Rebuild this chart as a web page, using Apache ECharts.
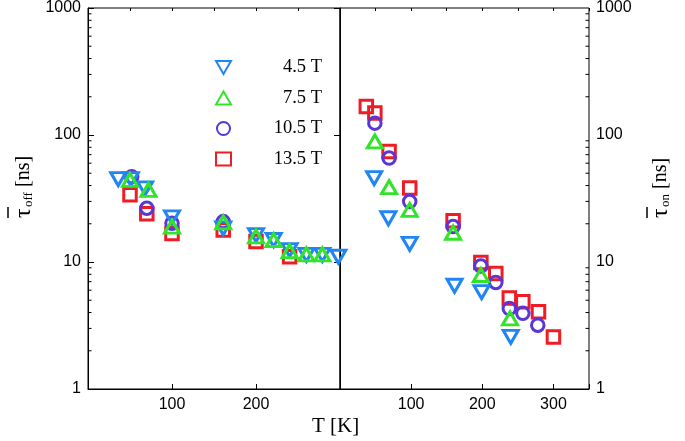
<!DOCTYPE html>
<html>
<head>
<meta charset="utf-8">
<script src="https://cdn.jsdelivr.net/npm/echarts@6/dist/echarts.min.js"></script>
<style>html,body{margin:0;padding:0;background:#fff}#c{width:685px;height:441px}</style>
</head>
<body>
<div id="c"></div>
<script>
// ---- data (left panel: tau_off, right panel: tau_on) ----
const FIELDS = ['4.5 T', '7.5 T', '10.5 T', '13.5 T'];
const T_OFF_45 = [36, 51, 68, 100, 161, 200, 221, 240, 260, 279, 298];
const V_OFF_45 = [45, 45, 38, 22.5, 18.4, 16.3, 14.9, 12.4, 11.4, 11.4, 11.0];
const T_OFF_75 = [50, 72, 100, 161, 200, 221, 240, 260, 279];
const V_OFF_75 = [44.4, 37, 19, 20.5, 15.9, 14.9, 12.2, 11.5, 11.5];
const T_OFF_105 = [52, 70, 100, 161];
const V_OFF_105 = [47, 26.5, 20.2, 20.8];
const T_OFF_135 = [50, 70, 100, 161, 200, 240];
const V_OFF_135 = [33.8, 24, 16.8, 17.9, 14.5, 11.0];

const T_ON_45 = [48, 68, 98, 161, 199, 240];
const V_ON_45 = [45.8, 22.1, 13.9, 6.5, 5.8, 2.57];
const T_ON_75 = [49, 69, 98, 159, 198, 239];
const V_ON_75 = [89, 38.9, 25.7, 17.0, 7.9, 3.6];
const T_ON_105 = [49, 69, 98, 159, 198, 219, 238, 257, 278];
const V_ON_105 = [124, 65.8, 29.9, 19.0, 9.3, 6.9, 4.3, 3.94, 3.18];
const T_ON_135 = [37, 49, 69, 98, 159, 198, 219, 238, 257, 279, 300];
const V_ON_135 = [168, 149, 74.3, 38.2, 21.1, 9.9, 8.1, 5.2, 4.86, 4.05, 2.57];

const X_LABELS_LEFT = [100, 200];
const X_LABELS_RIGHT = [100, 200, 300];
const Y_LABELS = [1, 10, 100, 1000];
const MINOR_Y = [2,3,4,5,6,7,8,9,20,30,40,50,60,70,80,90,200,300,400,500,600,700,800,900];

// ---- styles ----
const COLORS = {'4.5 T':'#2186f4', '7.5 T':'#33e32a', '10.5 T':'#5a35d8', '13.5 T':'#ee1c25'};
const DOWN_TRI = 'path://M0,0L10,0L5,8.7Z';
const SYM = {
  '4.5 T': {symbol: DOWN_TRI, symbolSize:[15,13]},
  '7.5 T': {symbol:'triangle', symbolSize:[15,13]},
  '10.5 T': {symbol:'circle', symbolSize:12.5},
  '13.5 T': {symbol:'rect', symbolSize:12.5}
};
const Z = {'13.5 T':2, '10.5 T':3, '4.5 T':4, '7.5 T':5};

const zip = (a, b) => a.map((v, i) => [v, b[i]]);
function sc(name, xi, T, V) {
  return Object.assign({
    type: 'scatter', name: name, xAxisIndex: xi, yAxisIndex: xi === 0 ? 0 : 1,
    data: zip(T, V), z: Z[name],
    itemStyle: {color: 'rgba(255,255,255,0)', borderColor: COLORS[name], borderWidth: 3, opacity: 1},
    emphasis: {disabled: true}
  }, SYM[name]);
}

const font = 'Liberation Sans, Arial, sans-serif';
const serif = 'Liberation Serif, Times New Roman, serif';

function xMajor(gi, max, labels) {
  return {
    type: 'value', gridIndex: gi, min: 0, max: max, interval: 100,
    axisLine: {show: true, onZero: false, lineStyle: {color: '#000', width: 1}},
    axisTick: {show: true, inside: true, length: 5, lineStyle: {color: '#000'}},
    axisLabel: {show: true, margin: 8, fontSize: 16, color: '#000', fontFamily: font,
      formatter: v => labels.indexOf(v) >= 0 ? String(v) : ''},
    splitLine: {show: false}
  };
}
function xMinor(gi, max) {
  return {
    type: 'value', gridIndex: gi, min: 0, max: max, interval: 50,
    axisLine: {show: false}, axisLabel: {show: false}, splitLine: {show: false},
    axisTick: {show: true, inside: true, length: 3, lineStyle: {color: '#000'}}
  };
}
function yAx(gi, pos) {
  return {
    type: 'log', gridIndex: gi, min: 1, max: 1000, logBase: 10, position: pos,
    axisLine: {show: true, lineStyle: {color: '#000', width: 1}},
    axisTick: {show: true, inside: true, length: 6, lineStyle: {color: '#000'}},
    axisLabel: {show: true, margin: 7, fontSize: 16, color: '#000', fontFamily: font,
      formatter: v => Y_LABELS.indexOf(Math.round(v)) >= 0 ? String(Math.round(v)) : ''},
    splitLine: {show: false}
  };
}
function minorTicks(xi, xv, dir) {
  return {
    type: 'custom', xAxisIndex: xi, yAxisIndex: xi === 0 ? 0 : 1, silent: true, z: 1,
    data: MINOR_Y.map(v => [xv, v]),
    renderItem: (params, api) => {
      const p = api.coord([api.value(0), api.value(1)]);
      return {type: 'line', shape: {x1: p[0], y1: p[1], x2: p[0] + dir * 3.5, y2: p[1]},
        style: {stroke: '#000', lineWidth: 1}};
    }
  };
}

const chart = echarts.init(document.getElementById('c'), null, {renderer: 'canvas'});
const option = {
  animation: false,
  backgroundColor: '#fff',
  grid: [
    {left: 88, top: 8, width: 252, height: 381, show: true, borderColor: '#000', borderWidth: 1, backgroundColor: 'transparent'},
    {left: 340, top: 8, width: 249, height: 381, show: true, borderColor: '#000', borderWidth: 1, backgroundColor: 'transparent'}
  ],
  xAxis: [xMajor(0, 300, X_LABELS_LEFT), xMajor(1, 350, X_LABELS_RIGHT), xMinor(0, 300), xMinor(1, 350)],
  yAxis: [yAx(0, 'left'), yAx(1, 'right')],
  legend: {
    data: FIELDS, orient: 'vertical', left: 210, top: 53, itemWidth: 15, itemHeight: 13, itemGap: 11.5,
    selectedMode: false,
    formatter: n => '{a|' + n + '}',
    textStyle: {rich: {a: {width: 86, align: 'right', fontSize: 18.5, lineHeight: 20, fontFamily: serif, color: '#000'}}}
  },
  series: [
    sc('13.5 T', 0, T_OFF_135, V_OFF_135),
    sc('10.5 T', 0, T_OFF_105, V_OFF_105),
    sc('4.5 T', 0, T_OFF_45, V_OFF_45),
    sc('7.5 T', 0, T_OFF_75, V_OFF_75),
    sc('13.5 T', 1, T_ON_135, V_ON_135),
    sc('10.5 T', 1, T_ON_105, V_ON_105),
    sc('4.5 T', 1, T_ON_45, V_ON_45),
    sc('7.5 T', 1, T_ON_75, V_ON_75),
    minorTicks(0, 0, 1),
    minorTicks(1, 350, -1)
  ],
  graphic: [
    {type: 'text', left: 312, top: 416, style: {text: 'T [K]', font: '21px ' + serif, fill: '#000'}},
    {type: 'group', x: 24, y: 218, rotation: Math.PI / 2, children: [
      {type: 'text', x: 0, y: 0, style: {text: 'τ', font: '24px ' + serif, fill: '#000', textVerticalAlign: 'middle', textAlign: 'left'}},
      {type: 'text', x: 11, y: 5, style: {text: 'off', font: '13px ' + serif, fill: '#000', textVerticalAlign: 'middle', textAlign: 'left'}},
      {type: 'text', x: 31, y: 0, style: {text: '[ns]', font: '20px ' + serif, fill: '#000', textVerticalAlign: 'middle', textAlign: 'left'}},
      {type: 'line', shape: {x1: 0, y1: -16, x2: 11, y2: -16}, style: {stroke: '#000', lineWidth: 1.5}}
    ]},
    {type: 'group', x: 661, y: 218, rotation: Math.PI / 2, children: [
      {type: 'text', x: 0, y: 0, style: {text: 'τ', font: '24px ' + serif, fill: '#000', textVerticalAlign: 'middle', textAlign: 'left'}},
      {type: 'text', x: 11, y: 5, style: {text: 'on', font: '13px ' + serif, fill: '#000', textVerticalAlign: 'middle', textAlign: 'left'}},
      {type: 'text', x: 29, y: 0, style: {text: '[ns]', font: '20px ' + serif, fill: '#000', textVerticalAlign: 'middle', textAlign: 'left'}},
      {type: 'line', shape: {x1: 0, y1: -14, x2: 11, y2: -14}, style: {stroke: '#000', lineWidth: 1.5}}
    ]}
  ]
};
chart.setOption(option);
</script>
</body>
</html>
